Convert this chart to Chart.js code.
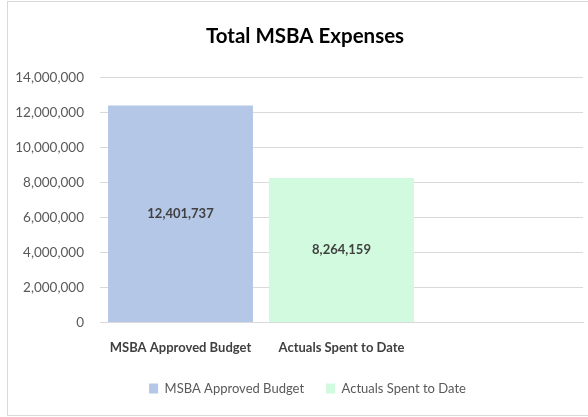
<!DOCTYPE html>
<html>
<head>
<meta charset="utf-8">
<script src="https://cdn.jsdelivr.net/npm/chart.js@4.4.1/dist/chart.umd.min.js"></script>
<style>
  html, body { margin: 0; padding: 0; background: #fff; }
  #frame { position: absolute; left: 7px; top: 1px; width: 590px; height: 413px; border: 1px solid #d9d9d9; }
  #wrap { position: absolute; left: 0; top: 0; width: 588px; height: 417px; }
</style>
</head>
<body>
<div id="frame"></div>
<div id="wrap"><canvas id="expChart"></canvas></div>
<script>
// chart data
const categories = ['MSBA Approved Budget', 'Actuals Spent to Date', ''];
const seriesNames = ['MSBA Approved Budget', 'Actuals Spent to Date'];
const approvedBudget = [12401737, null, null];
const actualsSpent = [null, 8264159, null];
const yTicks = [0, 2000000, 4000000, 6000000, 8000000, 10000000, 12000000, 14000000];

const fmt = v => v.toLocaleString('en-US');

// bar value labels in the middle of each bar
const midLabels = {
  id: 'midLabels',
  afterDatasetsDraw(chart) {
    const ctx = chart.ctx;
    ctx.save();
    ctx.font = 'bold 13px Lato';
    ctx.fillStyle = '#404040';
    ctx.textAlign = 'center';
    ctx.textBaseline = 'middle';
    chart.data.datasets.forEach((ds, i) => {
      chart.getDatasetMeta(i).data.forEach((bar, j) => {
        if (ds.data[j] == null) return;
        const p = bar.getProps(['x', 'y', 'base'], true);
        ctx.fillText(fmt(ds.data[j]), p.x, (p.y + p.base) / 2);
      });
    });
    ctx.restore();
  }
};

// title and legend sit centred on the frame, not on the plot's left edge
const shiftBlocks = {
  id: 'shiftBlocks',
  afterLayout(chart) {
    chart.titleBlock.left += 23;
    chart.legend.left += 28;
  }
};

const ctx = document.getElementById('expChart').getContext('2d');
const expChart = new Chart(ctx, {
  type: 'bar',
  data: {
    labels: categories,
    datasets: [
      { label: seriesNames[0], data: approvedBudget, backgroundColor: '#b4c7e7', skipNull: true },
      { label: seriesNames[1], data: actualsSpent, backgroundColor: '#d1fadf', skipNull: true }
    ]
  },
  options: {
    responsive: true,
    maintainAspectRatio: false,
    animation: false,
    categoryPercentage: 0.9,
    barPercentage: 1,
    layout: { padding: { left: 4, right: 5, top: 10, bottom: 12 } },
    plugins: {
      title: {
        display: true,
        text: 'Total MSBA Expenses',
        color: '#000',
        font: { family: 'Lato', size: 20.5, weight: 'bold' },
        padding: { top: 14, bottom: 29 }
      },
      legend: {
        position: 'bottom',
        labels: {
          color: '#595959',
          font: { family: 'Lato', size: 13 },
          boxWidth: 9,
          boxHeight: 10,
          padding: 22
        }
      },
      tooltip: { enabled: false }
    },
    scales: {
      x: {
        grid: { display: false },
        border: { color: '#d9d9d9', width: 1 },
        ticks: { color: '#404040', font: { family: 'Lato', size: 13, weight: 'bold' }, padding: 10 },
        afterFit: axis => { axis.height -= 6; }
      },
      y: {
        min: 0,
        max: 14000000,
        afterBuildTicks: axis => { axis.ticks = yTicks.map(v => ({ value: v })); },
        afterFit: axis => { axis.width = 96; },
        grid: { color: '#d9d9d9', lineWidth: 1, drawTicks: false },
        border: { display: false },
        ticks: { color: '#595959', font: { family: 'Lato', size: 13.5 }, padding: 16, callback: v => fmt(v) }
      }
    }
  },
  plugins: [midLabels, shiftBlocks]
});
</script>
</body>
</html>
